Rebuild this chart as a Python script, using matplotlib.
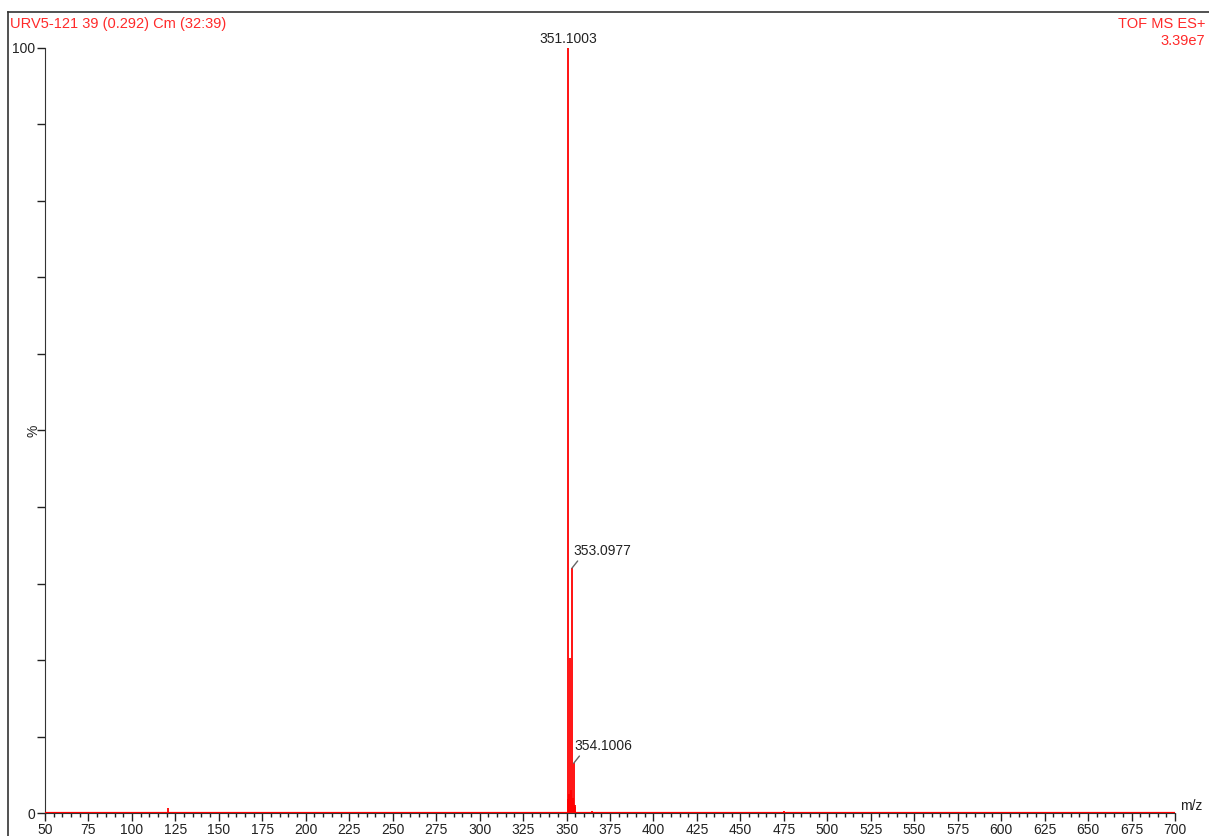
import numpy as np
import matplotlib
matplotlib.use('Agg')
from matplotlib import pyplot as plt
from matplotlib.lines import Line2D
from matplotlib.ticker import MultipleLocator

plt.rcParams['font.family'] = ['Liberation Sans', 'DejaVu Sans']

# Peak list (m/z, relative intensity %)
mz = [121.0, 350.6, 351.1003, 351.5, 352.1, 352.5, 353.0977, 353.5, 354.1006, 354.6, 355.1, 364.6, 475.0]
intensity = [0.6, 1.8, 100.0, 2.5, 20.3, 3.0, 32.0, 2.0, 6.5, 0.8, 1.0, 0.3, 0.3]

# Labelled peaks
label_mz = [351.1003, 353.0977, 354.1006]
label_int = [100.0, 32.0, 6.5]

header_left = 'URV5-121 39 (0.292) Cm (32:39)'
header_right = ['TOF MS ES+', '3.39e7']

red = '#ff0000'
txt_red = '#ff2a2a'

fig = plt.figure(figsize=(12.09, 8.36), dpi=100)
ax = fig.add_axes([0.0372, 0.0275, 0.9347, 0.9151])

# baseline and peaks
ax.plot([50, 700], [0, 0], color=red, lw=1.6, zorder=3, solid_capstyle='butt')
ax.vlines(mz, 0, intensity, color=red, lw=1.3, zorder=3)

ax.set_xlim(50, 700)
ax.set_ylim(0, 100)

ax.spines['top'].set_visible(False)
ax.spines['right'].set_visible(False)
ax.spines['left'].set_color('#333333')
ax.spines['bottom'].set_color('#333333')

ax.xaxis.set_major_locator(MultipleLocator(25))
ax.xaxis.set_minor_locator(MultipleLocator(5))
ax.tick_params(axis='x', which='major', length=6, width=1, pad=1, labelsize=10, colors='#222222')
ax.tick_params(axis='x', which='minor', length=3, width=1, colors='#222222')

ax.set_yticks([0, 100])
ax.set_yticks(np.arange(10, 100, 10), minor=True)
ax.tick_params(axis='y', which='major', length=6, width=1, pad=1, labelsize=10, colors='#222222')
ax.tick_params(axis='y', which='minor', length=6, width=1, colors='#222222')
ax.text(-0.004, 0.5, '%', transform=ax.transAxes, rotation=90, ha='right', va='center',
        fontsize=10, color='#222222')

ax.text(1.004, 0.0, 'm/z', transform=ax.transAxes, ha='left', va='bottom', fontsize=10, color='#222222')

# peak labels
ax.annotate(f'{label_mz[0]:.4f}', xy=(label_mz[0], label_int[0]), xytext=(0, 2),
            textcoords='offset pixels', ha='center', va='bottom', fontsize=10, color='#222222',
            annotation_clip=False)
for m, v in zip(label_mz[1:], label_int[1:]):
    ax.annotate(f'{m:.4f}', xy=(m, v), xytext=(1, 10), textcoords='offset pixels',
                ha='left', va='bottom', fontsize=10, color='#222222',
                arrowprops=dict(arrowstyle='-', color='#666666', lw=1,
                                shrinkA=0, shrinkB=0, relpos=(0.12, 0.0)))

# header
fig.text(10 / 1209, 1 - 24 / 836, header_left, ha='left', va='center', fontsize=10.5, color=txt_red)
fig.text(1205 / 1209, 1 - 24 / 836, header_right[0], ha='right', va='center', fontsize=10.5, color=txt_red)
fig.text(1205 / 1209, 1 - 41 / 836, header_right[1], ha='right', va='center', fontsize=10.5, color=txt_red)

# outer frame
fig.add_artist(Line2D([8 / 1209, 8 / 1209], [0, 1 - 12 / 836], color='#333333', lw=1.2))
fig.add_artist(Line2D([8 / 1209, 1], [1 - 12 / 836, 1 - 12 / 836], color='#333333', lw=1.2))

fig.savefig('out.png', dpi=100)
